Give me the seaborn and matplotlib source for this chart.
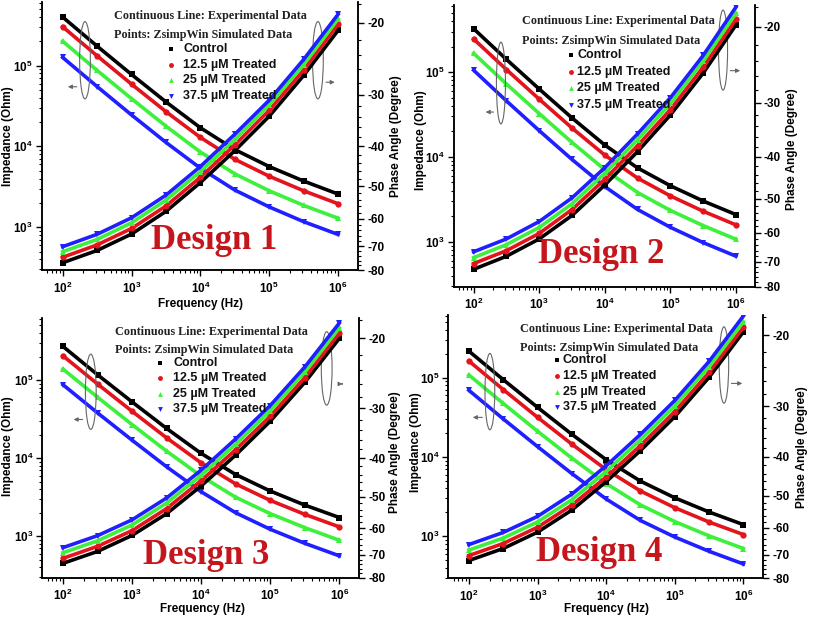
import numpy as np
import pandas as pd
import matplotlib
matplotlib.use('Agg')
import matplotlib.pyplot as plt
import seaborn as sns
from matplotlib.patches import Ellipse
from matplotlib.ticker import FixedLocator, NullFormatter, LogLocator

# ---------------- data ----------------
freq = [100, 316, 1000, 3162, 10000, 31623, 100000, 316228, 1000000]
series = ['Control', '12.5 µM Treated', '25 µM Treated', '37.5 µM Treated']
colors = ['#000000', '#e3141c', '#3cf03c', '#1f1fff']
markers = ['s', 'o', '^', 'v']

design1_impedance = [
    [398000, 174000, 77600, 35500, 17000, 9120, 5620, 3720, 2570],
    [302000, 132000, 58900, 26900, 12900, 6920, 4270, 2820, 1950],
    [200000, 87100, 38900, 17800, 8510, 4570, 2820, 1860, 1290],
    [126000, 55000, 24500, 11200, 5370, 2880, 1780, 1170, 813],
]
design1_phase = [
    [-76.8, -71.7, -65.4, -57.6, -49.0, -41.0, -33.8, -26.9, -20.9],
    [-74.5, -69.5, -63.4, -55.9, -47.6, -39.7, -32.7, -26.1, -20.2],
    [-72.2, -67.4, -61.4, -54.1, -46.1, -38.5, -31.7, -25.3, -19.6],
    [-70.2, -65.5, -59.7, -52.6, -44.8, -37.4, -30.9, -24.6, -19.1],
]
design2_impedance = [
    [324000, 141000, 63100, 28800, 13800, 7410, 4570, 3020, 2090],
    [245000, 107000, 47900, 21900, 10500, 5620, 3470, 2290, 1580],
    [166000, 72400, 32400, 14800, 7080, 3800, 2340, 1550, 1070],
    [105000, 45700, 20400, 9330, 4470, 2400, 1480, 977, 676],
]
design2_phase = [
    [-72.9, -68.0, -62.0, -54.7, -46.5, -38.9, -32.0, -25.6, -19.8],
    [-70.7, -66.0, -60.2, -53.0, -45.1, -37.7, -31.1, -24.8, -19.2],
    [-68.5, -63.9, -58.3, -51.4, -43.7, -36.5, -30.1, -24.0, -18.6],
    [-66.4, -62.0, -56.5, -49.8, -42.4, -35.4, -29.2, -23.3, -18.0],
]
design3_impedance = [
    [269000, 117000, 52500, 24000, 11500, 6170, 3800, 2510, 1740],
    [204000, 89100, 39800, 18200, 8710, 4680, 2880, 1910, 1320],
    [138000, 60300, 26900, 12300, 5890, 3160, 1950, 1290, 891],
    [87100, 38000, 17000, 7760, 3720, 2000, 1230, 813, 562],
]
design3_phase = [
    [-73.6, -68.7, -62.6, -55.2, -47.0, -39.3, -32.3, -25.8, -20.0],
    [-71.5, -66.7, -60.9, -53.6, -45.6, -38.1, -31.4, -25.1, -19.4],
    [-69.2, -64.6, -58.9, -51.9, -44.2, -36.9, -30.4, -24.3, -18.8],
    [-67.2, -62.7, -57.2, -50.4, -42.9, -35.8, -29.5, -23.6, -18.3],
]
design4_impedance = [
    [216000, 94400, 42200, 19300, 9230, 4950, 3050, 2020, 1400],
    [162000, 70800, 31600, 14500, 6920, 3720, 2290, 1510, 1050],
    [108000, 47300, 21100, 9660, 4620, 2480, 1530, 1010, 700],
    [69200, 30200, 13500, 6170, 2950, 1580, 977, 646, 447],
]
design4_phase = [
    [-72.3, -67.5, -61.5, -54.2, -46.1, -38.6, -31.8, -25.4, -19.6],
    [-70.3, -65.6, -59.8, -52.7, -44.9, -37.5, -30.9, -24.7, -19.1],
    [-68.1, -63.6, -58.0, -51.1, -43.5, -36.3, -29.9, -23.9, -18.5],
    [-66.0, -61.6, -56.2, -49.5, -42.1, -35.2, -29.0, -23.2, -17.9],
]
design_names = ['Design 1', 'Design 2', 'Design 3', 'Design 4']
x_ticks = [1e2, 1e3, 1e4, 1e5, 1e6]
x_tick_labels = [r'$10^{2}$', r'$10^{3}$', r'$10^{4}$', r'$10^{5}$', r'$10^{6}$']
z_ticks = [1e3, 1e4, 1e5]
z_tick_labels = [r'$10^{3}$', r'$10^{4}$', r'$10^{5}$']
phase_ticks = [-20, -30, -40, -50, -60, -70, -80]

# ---------------- style ----------------
plt.rcParams['font.family'] = ['Liberation Sans', 'DejaVu Sans']
plt.rcParams['font.weight'] = 'bold'
plt.rcParams['mathtext.fontset'] = 'custom'
plt.rcParams['mathtext.rm'] = 'Liberation Sans:bold'
plt.rcParams['mathtext.bf'] = 'Liberation Sans:bold'
plt.rcParams['mathtext.it'] = 'Liberation Sans:bold'
plt.rcParams['axes.linewidth'] = 1.1

fig = plt.figure(figsize=(8.13, 6.21), dpi=100)

panels = [
    dict(pos=[0.0517, 0.5652, 0.3887, 0.432], imp=design1_impedance, ph=design1_phase,
         leg_x=0.228, leg_y=(0.947, 0.876), mk_x=0.408, tx_x=0.447, rows=[0.822, 0.766, 0.708, 0.648],
         ell_l=(0.136, 0.782, 0.034, 0.288), arr_l=((0.119, 0.683), (0.073, 0.683)),
         ell_r=(0.873, 0.782, 0.034, 0.288), arr_r=((0.89, 0.70), (0.935, 0.70)),
         design=(0.544, 0.111), lab_imp=(-0.107, 0.5), lab_ph=(1.12, 0.5), lab_f=(0.5025, -0.127)),
    dict(pos=[0.5584, 0.5383, 0.3702, 0.4536], imp=design2_impedance, ph=design2_phase,
         leg_x=0.225, leg_y=(0.944, 0.873), mk_x=0.39, tx_x=0.41, rows=[0.822, 0.763, 0.704, 0.645],
         ell_l=(0.156, 0.723, 0.03, 0.29), arr_l=((0.141, 0.62), (0.096, 0.62)),
         ell_r=(0.894, 0.84, 0.03, 0.284), arr_r=((0.909, 0.767), (0.96, 0.767)),
         design=(0.49, 0.116), lab_imp=(-0.11, 0.52), lab_ph=(1.122, 0.49), lab_f=None),
    dict(pos=[0.052, 0.0697, 0.39, 0.4177], imp=design3_impedance, ph=design3_phase,
         leg_x=0.229, leg_y=(0.948, 0.878), mk_x=0.371, tx_x=0.413, rows=[0.827, 0.769, 0.708, 0.649],
         ell_l=(0.153, 0.717, 0.034, 0.29), arr_l=((0.136, 0.61), (0.09, 0.61)),
         ell_r=(0.897, 0.807, 0.034, 0.283), arr_r=((0.938, 0.747), (0.956, 0.747)),
         design=(0.516, 0.084), lab_imp=(-0.107, 0.508), lab_ph=(1.114, 0.486), lab_f=(0.505, -0.121)),
    dict(pos=[0.5514, 0.0688, 0.3875, 0.424], imp=design4_impedance, ph=design4_phase,
         leg_x=0.228, leg_y=(0.947, 0.876), mk_x=0.344, tx_x=0.363, rows=[0.829, 0.768, 0.709, 0.651],
         ell_l=(0.132, 0.709, 0.031, 0.29), arr_l=((0.117, 0.611), (0.069, 0.611)),
         ell_r=(0.875, 0.81, 0.03, 0.29), arr_r=((0.89, 0.74), (0.942, 0.74)),
         design=(0.478, 0.098), lab_imp=(-0.104, 0.516), lab_ph=(1.122, 0.497), lab_f=(0.503, -0.117)),
]

for name, p in zip(design_names, panels):
    rows = []
    for s, zs, ps in zip(series, p['imp'], p['ph']):
        for f, z, ph in zip(freq, zs, ps):
            rows.append({'freq': f, 'series': s, 'Z': z, 'phase_mag': -ph})
    df = pd.DataFrame(rows)

    ax = fig.add_axes(p['pos'])
    ax.set_xscale('log')
    ax.set_yscale('log')
    sns.lineplot(data=df, x='freq', y='Z', hue='series', style='series',
                 hue_order=series, style_order=series, palette=colors,
                 markers=markers, dashes=False, markersize=4.5, linewidth=2.6,
                 markeredgewidth=0, legend=False, ax=ax)
    ax2 = ax.twinx()
    ax2.set_yscale('log')
    sns.lineplot(data=df, x='freq', y='phase_mag', hue='series', style='series',
                 hue_order=series, style_order=series, palette=colors,
                 markers=markers, dashes=False, markersize=4.5, linewidth=2.6,
                 markeredgewidth=0, legend=False, ax=ax2)

    ax.set_xlim(10 ** 1.7, 10 ** 6.29)
    ax.set_ylim(10 ** 2.47, 10 ** 5.79)
    ax2.set_ylim(80, 17.8)
    for a in (ax, ax2):
        a.set_xlabel('')
        a.set_ylabel('')
        a.spines['top'].set_visible(False)

    ax.set_xticks(x_ticks)
    ax.set_xticklabels(x_tick_labels)
    ax.xaxis.set_minor_locator(LogLocator(base=10, subs=np.arange(2, 10)))
    ax.xaxis.set_minor_formatter(NullFormatter())
    ax.set_yticks(z_ticks)
    ax.set_yticklabels(z_tick_labels)
    ax.yaxis.set_minor_locator(LogLocator(base=10, subs=np.arange(2, 10)))
    ax.yaxis.set_minor_formatter(NullFormatter())

    ax2.yaxis.set_major_locator(FixedLocator([-t for t in phase_ticks]))
    ax2.set_yticklabels([str(t) for t in phase_ticks])
    ax2.yaxis.set_minor_locator(FixedLocator([v for v in range(18, 80, 2) if v % 10 != 0]))
    ax2.yaxis.set_minor_formatter(NullFormatter())

    for a in (ax, ax2):
        a.tick_params(which='major', direction='out', length=4.5, width=1.0, labelsize=8.5, pad=2)
        a.tick_params(which='minor', direction='out', length=2.5, width=0.8)
    ax.tick_params(axis='x', pad=3)

    # axis labels
    ax.text(*p['lab_imp'], 'Impedance (Ohm)', transform=ax.transAxes, rotation=90,
            ha='center', va='center', fontsize=8.5, fontweight='bold')
    ax.text(*p['lab_ph'], 'Phase Angle (Degree)', transform=ax.transAxes, rotation=90,
            ha='center', va='center', fontsize=8.5, fontweight='bold')
    if p['lab_f'] is not None:
        ax.text(*p['lab_f'], 'Frequency (Hz)', transform=ax.transAxes,
                ha='center', va='center', fontsize=8.5, fontweight='bold')

    # in-plot legend
    ax2.text(p['leg_x'], p['leg_y'][0], 'Continuous Line: Experimental Data', transform=ax2.transAxes,
             family='Liberation Serif', fontweight='bold', fontsize=8.7, ha='left', va='center', color='#222222')
    ax2.text(p['leg_x'], p['leg_y'][1], 'Points: ZsimpWin Simulated Data', transform=ax2.transAxes,
             family='Liberation Serif', fontweight='bold', fontsize=8.7, ha='left', va='center', color='#222222')
    for s, c, m, ry in zip(series, colors, markers, p['rows']):
        ax2.plot([p['mk_x']], [ry], marker=m, color=c, ms=3.5, mew=0, linestyle='none',
                 transform=ax2.transAxes, clip_on=False)
        ax2.text(p['tx_x'], ry, s, transform=ax2.transAxes, fontsize=9, fontweight='bold',
                 ha='left', va='center', color='#111111')

    # ellipses and arrows
    for ell, arr in ((p['ell_l'], p['arr_l']), (p['ell_r'], p['arr_r'])):
        ax2.add_patch(Ellipse((ell[0], ell[1]), ell[2], ell[3], transform=ax2.transAxes,
                              fill=False, edgecolor='#666666', lw=0.8))
        ax2.annotate('', xy=arr[1], xytext=arr[0], xycoords='axes fraction', textcoords='axes fraction',
                     arrowprops=dict(arrowstyle='-|>', color='#666666', lw=0.8, mutation_scale=6))

    ax2.text(*p['design'], name, transform=ax2.transAxes, family='Liberation Serif', fontweight='bold',
             fontsize=25, color='#c4161c', ha='center', va='center')

fig.savefig('out.png', dpi=100)
